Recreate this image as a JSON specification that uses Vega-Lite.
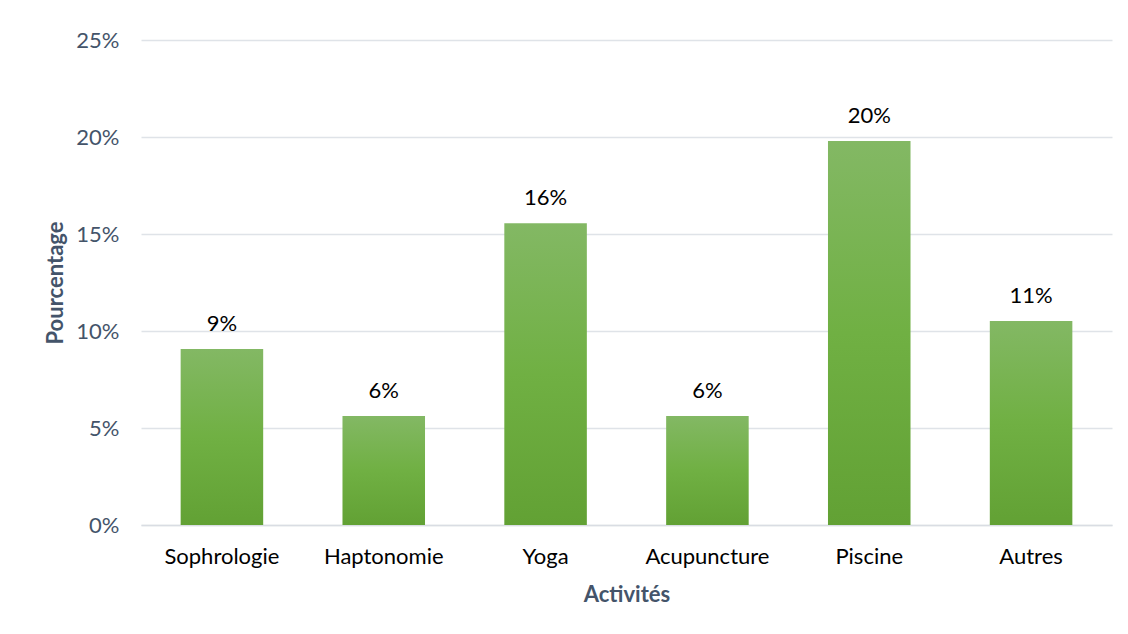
{
  "$schema": "https://vega.github.io/schema/vega-lite/v6.json",
  "width": 971,
  "height": 485,
  "autosize": "none",
  "padding": {"left": 141, "top": 40, "right": 16, "bottom": 109},
  "background": "white",
  "config": {
    "font": "Lato",
    "view": {"stroke": null}
  },
  "data": {
    "values": [
      {"activite": "Sophrologie", "pct": 0.0907},
      {"activite": "Haptonomie", "pct": 0.0562},
      {"activite": "Yoga", "pct": 0.1556},
      {"activite": "Acupuncture", "pct": 0.0562},
      {"activite": "Piscine", "pct": 0.1979},
      {"activite": "Autres", "pct": 0.1052}
    ]
  },
  "encoding": {
    "x": {
      "field": "activite",
      "type": "nominal",
      "sort": null,
      "scale": {"paddingInner": 0.49, "paddingOuter": 0.245},
      "axis": {
        "title": "Activités",
        "titleFont": "Lato",
        "titleFontSize": 22,
        "titleFontWeight": "bold",
        "titleColor": "#44546a",
        "titlePadding": 17,
        "labelAngle": 0,
        "labelFontSize": 22,
        "labelColor": "#000000",
        "labelPadding": 21,
        "ticks": false,
        "domainColor": "#d9dde3",
        "domainWidth": 1.5
      }
    },
    "y": {
      "field": "pct",
      "type": "quantitative",
      "scale": {"domain": [0, 0.25], "nice": false},
      "axis": {
        "title": "Pourcentage",
        "titleFont": "Lato",
        "titleFontSize": 22,
        "titleFontWeight": "bold",
        "titleColor": "#44546a",
        "titlePadding": 8,
        "format": ".0%",
        "values": [0, 0.05, 0.1, 0.15, 0.2, 0.25],
        "labelFontSize": 22,
        "labelColor": "#44546a",
        "labelPadding": 22,
        "ticks": false,
        "domain": false,
        "gridColor": "#dfe3e8",
        "gridWidth": 1.5
      }
    }
  },
  "layer": [
    {
      "mark": {
        "type": "bar",
        "color": {
          "gradient": "linear",
          "x1": 0, "y1": 0, "x2": 0, "y2": 1,
          "stops": [
            {"offset": 0, "color": "#83b864"},
            {"offset": 0.5, "color": "#70b043"},
            {"offset": 1, "color": "#62a134"}
          ]
        }
      }
    },
    {
      "mark": {"type": "text", "dy": -25, "fontSize": 22, "color": "#000000", "font": "Lato"},
      "encoding": {
        "text": {"field": "pct", "type": "quantitative", "format": ".0%"}
      }
    }
  ]
}
